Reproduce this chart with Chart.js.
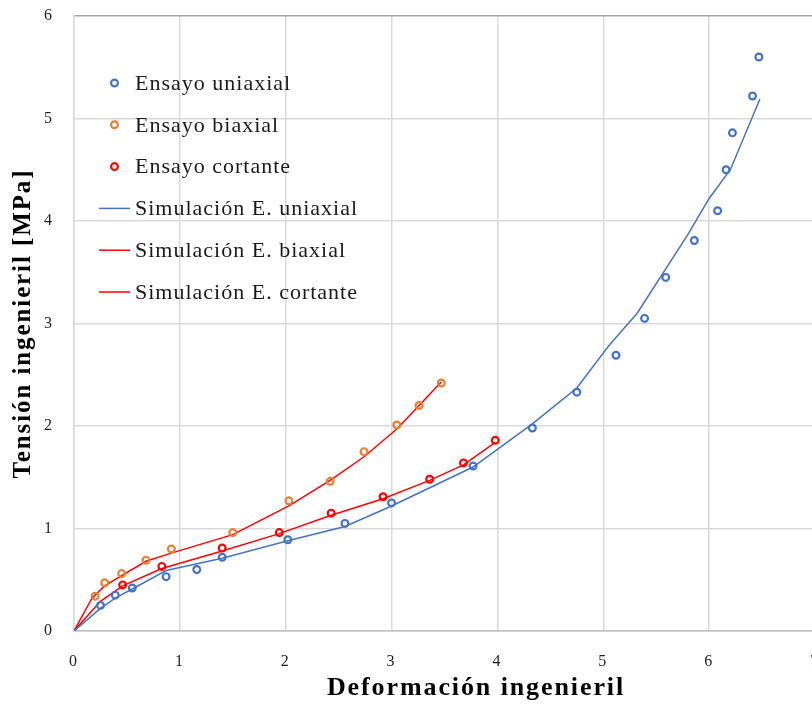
<!DOCTYPE html>
<html>
<head>
<meta charset="utf-8">
<script src="https://cdn.jsdelivr.net/npm/chart.js@4.4.1/dist/chart.umd.min.js"></script>
<style>
  body { margin: 0; background: #fff; overflow: hidden; }
  #wrap { width: 812px; height: 704px; overflow: hidden; }
</style>
</head>
<body>
<div id="wrap"><canvas id="stressChart" width="952" height="704"></canvas></div>
<script>
const uniaxialExpX = [0.25, 0.39, 0.55, 0.87, 1.16, 1.40, 2.02, 2.56, 3.00, 3.77, 4.33, 4.75, 5.12, 5.39, 5.59, 5.86, 6.08, 6.16, 6.22, 6.41, 6.47];
const uniaxialExpY = [0.25, 0.35, 0.42, 0.53, 0.60, 0.72, 0.89, 1.05, 1.25, 1.61, 1.98, 2.33, 2.69, 3.05, 3.45, 3.81, 4.10, 4.50, 4.86, 5.22, 5.60];

const biaxialExpX = [0.20, 0.29, 0.45, 0.68, 0.92, 1.50, 2.03, 2.42, 2.74, 3.05, 3.26, 3.47];
const biaxialExpY = [0.34, 0.47, 0.56, 0.69, 0.80, 0.96, 1.27, 1.46, 1.75, 2.01, 2.20, 2.42];

const shearExpX = [0.46, 0.83, 1.40, 1.94, 2.43, 2.92, 3.36, 3.68, 3.98];
const shearExpY = [0.45, 0.63, 0.81, 0.96, 1.15, 1.31, 1.48, 1.64, 1.86];

// Simulation curves
const uniaxialSimX = [0, 0.25, 0.39, 0.55, 0.87, 1.40, 2.02, 2.56, 3.00, 3.77, 4.33, 4.75, 5.05, 5.32, 5.80, 6.00, 6.20, 6.48];
const uniaxialSimY = [0, 0.22, 0.32, 0.41, 0.59, 0.71, 0.88, 1.02, 1.22, 1.60, 2.02, 2.37, 2.78, 3.10, 3.87, 4.22, 4.50, 5.19];

const biaxialSimX = [0, 0.17, 0.29, 0.45, 0.68, 0.92, 1.50, 2.03, 2.42, 2.74, 3.05, 3.26, 3.47];
const biaxialSimY = [0, 0.32, 0.44, 0.54, 0.68, 0.76, 0.94, 1.22, 1.47, 1.70, 1.97, 2.20, 2.43];

const shearSimX = [0, 0.25, 0.46, 0.83, 1.40, 1.94, 2.43, 2.92, 3.36, 3.68, 3.98];
const shearSimY = [0, 0.29, 0.44, 0.61, 0.78, 0.95, 1.13, 1.29, 1.47, 1.62, 1.84];

const xTicks = [0, 1, 2, 3, 4, 5, 6, 7];
const yTicks = [0, 1, 2, 3, 4, 5, 6];

const BLUE = '#4472C4';
const ORANGE = '#ED7D31';
const RED = '#FF0000';
const FONT = "'Liberation Serif', 'Times New Roman', serif";

function pts(xs, ys) {
  return xs.map((x, i) => ({ x: x, y: ys[i] }));
}

function markers(label, xs, ys, color) {
  return {
    label: label,
    data: pts(xs, ys),
    showLine: false,
    pointStyle: 'circle',
    pointRadius: 3.4,
    pointBorderWidth: 2.2,
    borderColor: color,
    backgroundColor: 'rgba(0,0,0,0)'
  };
}

function curve(label, xs, ys, color) {
  return {
    label: label,
    data: pts(xs, ys),
    showLine: true,
    pointRadius: 0,
    borderWidth: 1.5,
    borderColor: color,
    backgroundColor: color,
    tension: 0
  };
}

// the original font is wider than Liberation Serif, so spread the letters a bit
const textSpacing = {
  id: 'textSpacing',
  beforeUpdate(chart) { chart.ctx.letterSpacing = '1.9px'; },
  beforeDraw(chart) { chart.ctx.letterSpacing = '1.9px'; }
};

// legend drawn inside the plot, like the original
const insideLegend = {
  id: 'insideLegend',
  afterDraw(chart, args, opts) {
    const ctx = chart.ctx;
    ctx.save();
    ctx.letterSpacing = opts.letterSpacing;
    ctx.font = opts.fontSize + 'px ' + FONT;
    ctx.textBaseline = 'middle';
    ctx.textAlign = 'left';
    chart.data.datasets.forEach((ds, i) => {
      const cy = opts.y + i * opts.spacing;
      ctx.strokeStyle = ds.borderColor;
      if (ds.showLine) {
        ctx.lineWidth = ds.borderWidth;
        ctx.beginPath();
        ctx.moveTo(opts.x, cy);
        ctx.lineTo(opts.x + opts.symbolWidth, cy);
        ctx.stroke();
      } else {
        ctx.lineWidth = ds.pointBorderWidth;
        ctx.beginPath();
        ctx.arc(opts.x + opts.symbolWidth / 2, cy, ds.pointRadius, 0, Math.PI * 2);
        ctx.stroke();
      }
      ctx.fillStyle = '#1a1a1a';
      ctx.fillText(ds.label, opts.x + opts.symbolWidth + opts.gap, cy + 1);
    });
    ctx.restore();
  }
};

const ctx = document.getElementById('stressChart').getContext('2d');
new Chart(ctx, {
  type: 'scatter',
  data: {
    datasets: [
      markers('Ensayo uniaxial', uniaxialExpX, uniaxialExpY, BLUE),
      markers('Ensayo biaxial', biaxialExpX, biaxialExpY, ORANGE),
      markers('Ensayo cortante', shearExpX, shearExpY, RED),
      curve('Simulación E. uniaxial', uniaxialSimX, uniaxialSimY, BLUE),
      curve('Simulación E. biaxial', biaxialSimX, biaxialSimY, RED),
      curve('Simulación E. cortante', shearSimX, shearSimY, RED)
    ]
  },
  options: {
    responsive: false,
    animation: false,
    layout: { padding: { left: 0, top: 16, right: 0, bottom: 0 } },
    plugins: {
      legend: { display: false },
      tooltip: { enabled: false },
      title: {
        display: true,
        position: 'bottom',
        text: 'Deformación ingenieril',
        color: '#000',
        font: { family: FONT, size: 26, weight: 'bold' },
        padding: { top: 1.8, bottom: 0 }
      },
      insideLegend: { x: 99, y: 83, spacing: 41.8, symbolWidth: 31, gap: 5, fontSize: 22, letterSpacing: '1px' }
    },
    scales: {
      x: {
        type: 'linear',
        min: 0,
        max: 7,
        afterBuildTicks: s => { s.ticks = xTicks.map(v => ({ value: v })); },
        afterFit: s => {
          s.height = 40;
          s.paddingLeft = 0;
          s.paddingRight = 137; // plot runs on past the right edge of the window
        },
        grid: { color: '#d9d9d9', lineWidth: 1.5, drawTicks: false },
        border: { color: '#bfbfbf', width: 1.5 },
        ticks: { padding: 21, color: '#1f1f1f', font: { family: FONT, size: 16 } }
      },
      y: {
        type: 'linear',
        min: 0,
        max: 6,
        afterBuildTicks: s => { s.ticks = yTicks.map(v => ({ value: v })); },
        afterFit: s => {
          s.width = 74;
          s.paddingTop = 0;
          s.paddingBottom = 0;
        },
        grid: {
          color: c => (c.tick && c.tick.value === 6 ? '#a6a6a6' : '#d9d9d9'),
          lineWidth: 1.5,
          drawTicks: false
        },
        border: { color: '#d9d9d9', width: 1.5 },
        ticks: { padding: 20, color: '#1f1f1f', font: { family: FONT, size: 16 } },
        title: {
          display: true,
          text: 'Tensión ingenieril [MPa]',
          color: '#000',
          font: { family: FONT, size: 25, weight: 'bold' },
          padding: { top: 9, bottom: 5 }
        }
      }
    }
  },
  plugins: [textSpacing, insideLegend]
});
</script>
</body>
</html>
